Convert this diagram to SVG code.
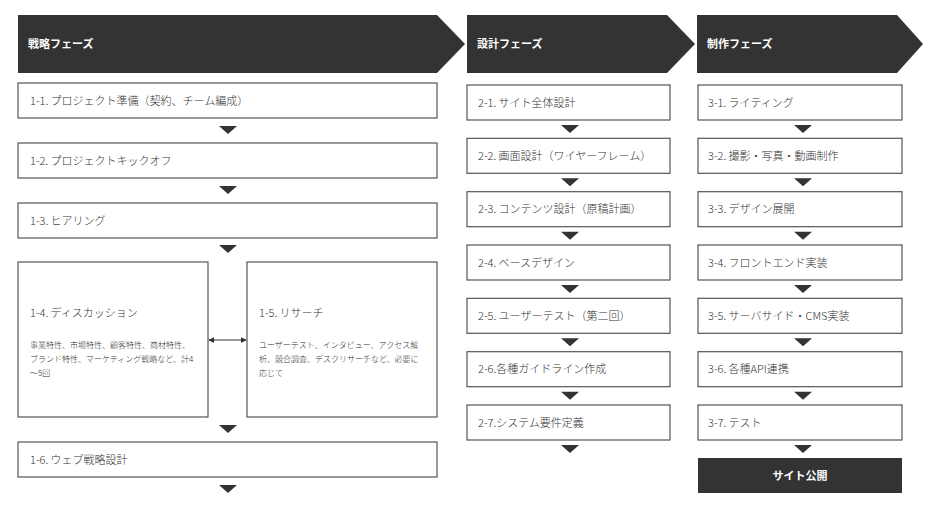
<svg xmlns="http://www.w3.org/2000/svg" width="941" height="509" viewBox="0 0 941 509">
<defs>
<style>
text{font-family:"Noto Sans CJK JP","Noto Sans",sans-serif;}
.box{fill:#fff;stroke:#555;stroke-width:1.2;}
.hd{fill:#333;}
.ht{fill:#fff;font-size:11px;font-weight:bold;}
.t{fill:#333;font-size:11px;font-weight:300;}
.s{fill:#333;font-size:8px;font-weight:300;}
.arr{fill:#333;}
</style>
<marker id="ah" viewBox="0 0 8 8" refX="7" refY="4" markerWidth="6" markerHeight="6" orient="auto-start-reverse" markerUnits="userSpaceOnUse">
<path d="M0,0 L8,4 L0,8 z" fill="#333"/>
</marker>
</defs>
<rect width="941" height="509" fill="#fff"/>
<g id="phase-strategy"><polygon class="hd" points="18,15 437,15 465,44 437,73 18,73"/><text class="ht" x="28" y="48">戦略フェーズ</text></g>
<g id="phase-design"><polygon class="hd" points="467,15 667,15 695,44 667,73 467,73"/><text class="ht" x="477" y="48">設計フェーズ</text></g>
<g id="phase-production"><polygon class="hd" points="697,15 897,15 923,44 897,73 697,73"/><text class="ht" x="707" y="48">制作フェーズ</text></g>

<g id="n1-1"><rect class="box" x="18" y="83" width="419" height="35"/><text class="t" x="30" y="104.5">1-1. プロジェクト準備（契約、チーム編成）</text></g>
<g id="n1-2"><rect class="box" x="18" y="143" width="419" height="35"/><text class="t" x="30" y="164.5">1-2. プロジェクトキックオフ</text></g>
<g id="n1-3"><rect class="box" x="18" y="203" width="419" height="35"/><text class="t" x="30" y="224.5">1-3. ヒアリング</text></g>
<g id="n1-4"><rect class="box" x="18" y="262" width="190" height="155"/><text class="t" x="30" y="317">1-4. ディスカッション</text>
<text class="s" x="30" y="348">事業特性、市場特性、顧客特性、商材特性、</text>
<text class="s" x="30" y="362">ブランド特性、マーケティング戦略など、計4</text>
<text class="s" x="30" y="376">～5回</text></g>
<g id="n1-5"><rect class="box" x="247" y="262" width="190" height="155"/><text class="t" x="259" y="317">1-5. リサーチ</text>
<text class="s" x="259" y="348">ユーザーテスト、インタビュー、アクセス解</text>
<text class="s" x="259" y="362">析、競合調査、デスクリサーチなど、必要に</text>
<text class="s" x="259" y="376">応じて</text></g>
<g id="n1-6"><rect class="box" x="18" y="442" width="419" height="35"/><text class="t" x="30" y="463.5">1-6. ウェブ戦略設計</text></g>

<g id="n2-1"><rect class="box" x="467" y="85" width="203" height="35"/><text class="t" x="478" y="106.5">2-1. サイト全体設計</text></g>
<g id="n2-2"><rect class="box" x="467" y="138.3" width="203" height="35"/><text class="t" x="478" y="159.8">2-2. 画面設計（ワイヤーフレーム）</text></g>
<g id="n2-3"><rect class="box" x="467" y="191.7" width="203" height="35"/><text class="t" x="478" y="213.2">2-3. コンテンツ設計（原稿計画）</text></g>
<g id="n2-4"><rect class="box" x="467" y="245" width="203" height="35"/><text class="t" x="478" y="266.5">2-4. ベースデザイン</text></g>
<g id="n2-5"><rect class="box" x="467" y="298.3" width="203" height="35"/><text class="t" x="478" y="319.8">2-5. ユーザーテスト（第二回）</text></g>
<g id="n2-6"><rect class="box" x="467" y="351.7" width="203" height="35"/><text class="t" x="478" y="373.2">2-6.各種ガイドライン作成</text></g>
<g id="n2-7"><rect class="box" x="467" y="405" width="203" height="35"/><text class="t" x="478" y="426.5">2-7.システム要件定義</text></g>

<g id="n3-1"><rect class="box" x="698" y="85" width="204" height="35"/><text class="t" x="708" y="106.5">3-1. ライティング</text></g>
<g id="n3-2"><rect class="box" x="698" y="138.3" width="204" height="35"/><text class="t" x="708" y="159.8">3-2. 撮影・写真・動画制作</text></g>
<g id="n3-3"><rect class="box" x="698" y="191.7" width="204" height="35"/><text class="t" x="708" y="213.2">3-3. デザイン展開</text></g>
<g id="n3-4"><rect class="box" x="698" y="245" width="204" height="35"/><text class="t" x="708" y="266.5">3-4. フロントエンド実装</text></g>
<g id="n3-5"><rect class="box" x="698" y="298.3" width="204" height="35"/><text class="t" x="708" y="319.8">3-5. サーバサイド・CMS実装</text></g>
<g id="n3-6"><rect class="box" x="698" y="351.7" width="204" height="35"/><text class="t" x="708" y="373.2">3-6. 各種API連携</text></g>
<g id="n3-7"><rect class="box" x="698" y="405" width="204" height="35"/><text class="t" x="708" y="426.5">3-7. テスト</text></g>
<g id="launch"><rect fill="#333" x="698" y="458" width="204" height="35"/><text x="800" y="479.5" text-anchor="middle" style="fill:#fff;font-size:11px;font-weight:bold;">サイト公開</text></g>

<g id="connectors">
<line x1="209" y1="340" x2="246" y2="340" stroke="#333" stroke-width="1.2" marker-start="url(#ah)" marker-end="url(#ah)"/>
<polygon class="arr" points="219,126 237,126 228,134"/>
<polygon class="arr" points="219,186 237,186 228,194"/>
<polygon class="arr" points="219,245 237,245 228,253"/>
<polygon class="arr" points="219,425 237,425 228,433"/>
<polygon class="arr" points="219,485 237,485 228,493"/>
<polygon class="arr" points="561,125 579,125 570,133"/>
<polygon class="arr" points="561,178.3 579,178.3 570,186.3"/>
<polygon class="arr" points="561,231.7 579,231.7 570,239.7"/>
<polygon class="arr" points="561,285 579,285 570,293"/>
<polygon class="arr" points="561,338.3 579,338.3 570,346.3"/>
<polygon class="arr" points="561,391.7 579,391.7 570,399.7"/>
<polygon class="arr" points="561,445 579,445 570,453"/>
<polygon class="arr" points="794,125 812,125 803,133"/>
<polygon class="arr" points="794,178.3 812,178.3 803,186.3"/>
<polygon class="arr" points="794,231.7 812,231.7 803,239.7"/>
<polygon class="arr" points="794,285 812,285 803,293"/>
<polygon class="arr" points="794,338.3 812,338.3 803,346.3"/>
<polygon class="arr" points="794,391.7 812,391.7 803,399.7"/>
<polygon class="arr" points="794,445 812,445 803,453"/>
</g>
</svg>
